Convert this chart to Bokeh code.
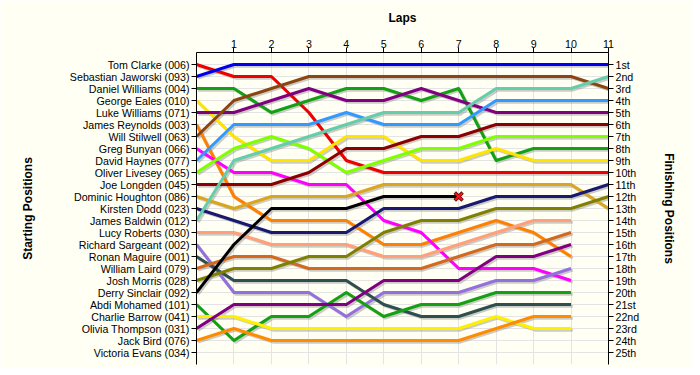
import numpy as np
from bokeh.plotting import figure
from bokeh.models import Range1d, LinearAxis, FixedTicker, ColumnDataSource
from bokeh.transform import dodge
from bokeh.embed import file_html
from bokeh.resources import INLINE

laps = list(range(0, 12))
lap_ticks = list(range(1, 12))

drivers = [
    "Tom Clarke (006)", "Sebastian Jaworski (093)", "Daniel Williams (004)",
    "George Eales (010)", "Luke Williams (071)", "James Reynolds (003)",
    "Will Stilwell (063)", "Greg Bunyan (066)", "David Haynes (077)",
    "Oliver Livesey (065)", "Joe Longden (045)", "Dominic Houghton (086)",
    "Kirsten Dodd (023)", "James Baldwin (012)", "Lucy Roberts (030)",
    "Richard Sargeant (002)", "Ronan Maguire (001)", "William Laird (079)",
    "Josh Morris (028)", "Derry Sinclair (092)", "Abdi Mohamed (101)",
    "Charlie Barrow (041)", "Olivia Thompson (031)", "Jack Bird (076)",
    "Victoria Evans (034)",
]

finish_labels = ["1st", "2nd", "3rd", "4th", "5th", "6th", "7th", "8th", "9th", "10th",
                 "11th", "12th", "13th", "14th", "15th", "16th", "17th", "18th", "19th",
                 "20th", "21st", "22nd", "23rd", "24th", "25th"]

N = None
tom_clarke = [1, 2, 2, 5, 9, 10, 10, 10, 10, 10, 10, 10]
sebastian_jaworski = [2, 1, 1, 1, 1, 1, 1, 1, 1, 1, 1, 1]
daniel_williams = [3, 3, 5, 4, 3, 3, 4, 3, 9, 8, 8, 8]
george_eales = [4, 7, 9, 9, 7, 7, 9, 9, 8, 9, 9, 9]
luke_williams = [5, 5, 4, 3, 4, 4, 3, 4, 5, 5, 5, 5]
james_reynolds = [6, 12, 14, 14, 14, 16, 16, 15, 14, 15, 17, N]
will_stilwell = [7, 4, 3, 2, 2, 2, 2, 2, 2, 2, 2, 3]
greg_bunyan = [8, 10, 10, 11, 11, 14, 15, 18, 18, 18, 19, N]
david_haynes = [9, 6, 6, 6, 5, 6, 6, 6, 4, 4, 4, 4]
oliver_livesey = [10, 8, 7, 8, 10, 9, 8, 8, 7, 7, 7, 7]
joe_longden = [11, 11, 11, 10, 8, 8, 7, 7, 6, 6, 6, 6]
dominic_houghton = [12, 13, 12, 12, 12, 11, 11, 11, 11, 11, 11, 13]
kirsten_dodd = [13, 14, 15, 15, 15, 13, 13, 13, 12, 12, 12, 11]
james_baldwin = [14, 9, 8, 7, 6, 5, 5, 5, 3, 3, 3, 2]
lucy_roberts = [15, 15, 16, 16, 16, 17, 17, 16, 15, 14, 14, N]
richard_sargeant = [16, 20, 20, 20, 22, 20, 20, 20, 19, 19, 18, N]
ronan_maguire = [17, 19, 19, 19, 19, 21, 22, 22, 21, 21, 21, N]
william_laird = [18, 17, 17, 18, 18, 18, 18, 17, 16, 16, 15, N]
josh_morris = [19, 18, 18, 17, 17, 15, 14, 14, 13, 13, 13, 12]
derry_sinclair = [20, 16, 13, 13, 13, 12, 12, 12, N, N, N, N]
abdi_mohamed = [21, 24, 22, 22, 20, 22, 21, 21, 20, 20, 20, N]
charlie_barrow = [22, 22, 23, 23, 23, 23, 23, 23, 22, 23, 23, N]
olivia_thompson = [23, 21, 21, 21, 21, 19, 19, 19, 17, 17, 16, N]
jack_bird = [24, 23, 24, 24, 24, 24, 24, 24, 23, 22, 22, N]
victoria_evans = [N] * 12

retired = ["Derry Sinclair (092)"]

series = [tom_clarke, sebastian_jaworski, daniel_williams, george_eales, luke_williams,
          james_reynolds, will_stilwell, greg_bunyan, david_haynes, oliver_livesey,
          joe_longden, dominic_houghton, kirsten_dodd, james_baldwin, lucy_roberts,
          richard_sargeant, ronan_maguire, william_laird, josh_morris, derry_sinclair,
          abdi_mohamed, charlie_barrow, olivia_thompson, jack_bird, victoria_evans]

colors = ["#EE0000", "#0000EE", "#14A014", "#FFE400", "#800080", "#FF8000",
          "#8B4513", "#FF00FF", "#3399FF", "#80FF00", "#8B0000", "#DAA520",
          "#191970", "#66CDAA", "#FFA07A", "#9370DB", "#2F4F4F", "#D2691E",
          "#808000", "#000000", "#14A014", "#FFF000", "#800080", "#FF8C00", "#888888"]

BG = "#FFFFF3"
FONT = "Liberation Sans"

p = figure(width=692, height=367, output_backend="svg", toolbar_location=None,
           x_range=Range1d(0, 11), y_range=Range1d(26, 0),
           x_axis_location="above", y_axis_location="left",
           min_border_left=196, min_border_right=84, min_border_top=52,
           min_border_bottom=3)
p.background_fill_color = BG
p.border_fill_color = BG
p.outline_line_color = None

# Axes
xa = p.xaxis[0]
xa.ticker = FixedTicker(ticks=lap_ticks)
xa.axis_label = "Laps"

ya = p.yaxis[0]
ya.ticker = FixedTicker(ticks=list(range(1, len(drivers) + 1)))
ya.major_label_overrides = {i + 1: d for i, d in enumerate(drivers)}
ya.axis_label = "Starting Positions"

ra = LinearAxis(ticker=FixedTicker(ticks=list(range(1, len(finish_labels) + 1))),
                axis_label="Finishing Positions")
ra.major_label_overrides = {i + 1: f for i, f in enumerate(finish_labels)}
p.add_layout(ra, "right")

for ax in [xa, ya, ra]:
    ax.axis_line_color = "black"
    ax.axis_line_width = 1
    ax.major_tick_line_color = "black"
    ax.major_tick_in = 0
    ax.major_tick_out = 5
    ax.minor_tick_line_color = None
    ax.major_label_text_font = FONT
    ax.major_label_text_font_size = "8pt"
    ax.major_label_text_color = "black"
    ax.major_label_standoff = 2
    ax.axis_label_text_font = FONT
    ax.axis_label_text_font_size = "12px"
    ax.axis_label_text_font_style = "bold"
    ax.axis_label_text_color = "black"
ya.axis_label_standoff = 32
ra.axis_label_standoff = 20
xa.major_label_standoff = 0
xa.axis_label_standoff = 12

p.xgrid.ticker = FixedTicker(ticks=lap_ticks)
p.ygrid.ticker = FixedTicker(ticks=list(range(1, 26)))
p.xgrid.grid_line_color = "#E4E4E4"
p.ygrid.grid_line_color = "#E4E4E4"

sources = []
for name, vals in zip(drivers, series):
    y = np.array([np.nan if v is None else v for v in vals], dtype=float)
    sources.append(ColumnDataSource(dict(x=laps, y=y)))

# shadows
for src in sources:
    p.line(x=dodge("x", 0.045, range=p.x_range), y=dodge("y", 0.14, range=p.y_range),
           source=src, line_color="#808080", line_alpha=0.4, line_width=3,
           line_join="round")

for src, c in zip(sources, colors):
    p.line(x="x", y="y", source=src, line_color=c, line_width=3, line_join="round")

# retirement markers
for name, vals in zip(drivers, series):
    if name in retired:
        idx = max(i for i, v in enumerate(vals) if v is not None)
        p.scatter(x=[laps[idx]], y=[vals[idx]], marker="x", size=11,
                  line_color="#600000", line_width=3.5)
        p.scatter(x=[laps[idx]], y=[vals[idx]], marker="x", size=10,
                  line_color="#FF1010", line_width=2)

open("out.html", "w").write(file_html(p, INLINE))
